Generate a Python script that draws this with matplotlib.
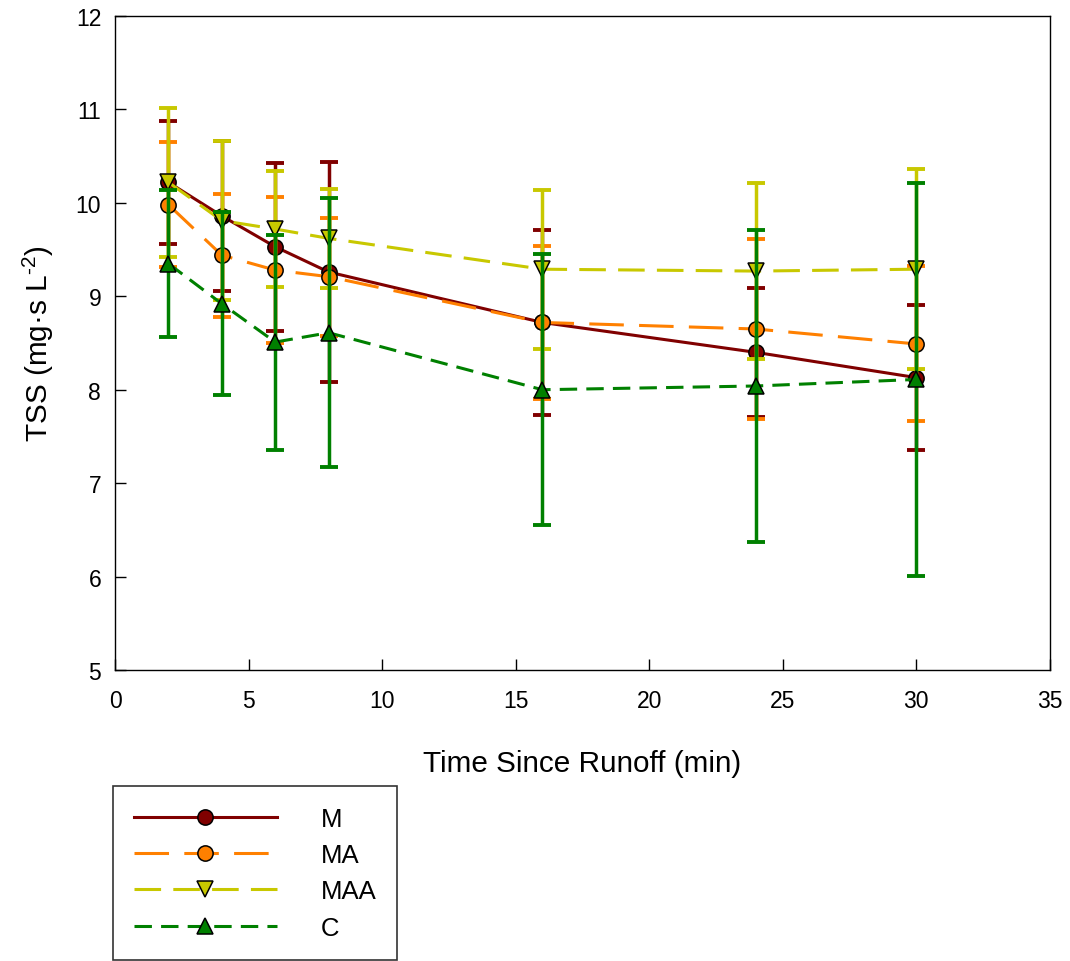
import matplotlib
matplotlib.use("Agg")
import matplotlib.pyplot as plt

plt.rcParams.update({
    "font.family": ["Liberation Sans", "DejaVu Sans"],
    "mathtext.fontset": "custom",
    "mathtext.rm": "Liberation Sans",
    "axes.linewidth": 1.0,
})

time = [2, 4, 6, 8, 16, 24, 30]

m_mean = [10.22, 9.86, 9.53, 9.26, 8.72, 8.40, 8.13]
m_err = [0.66, 0.80, 0.90, 1.18, 0.99, 0.69, 0.78]
ma_mean = [9.98, 9.44, 9.28, 9.21, 8.72, 8.65, 8.49]
ma_err = [0.67, 0.66, 0.78, 0.63, 0.82, 0.96, 0.83]
maa_mean = [10.22, 9.81, 9.72, 9.62, 9.29, 9.27, 9.29]
maa_err = [0.80, 0.85, 0.62, 0.53, 0.85, 0.94, 1.07]
c_mean = [9.35, 8.92, 8.51, 8.61, 8.00, 8.04, 8.11]
c_err = [0.79, 0.98, 1.15, 1.44, 1.45, 1.67, 2.10]

labels = ["M", "MA", "MAA", "C"]
means = [m_mean, ma_mean, maa_mean, c_mean]
errs = [m_err, ma_err, maa_err, c_err]
colors = ["#800000", "#ff8000", "#c8c800", "#008000"]
markers = ["o", "o", "v", "^"]
styles = ["-", (0, (11.3, 5)), (0, (8.7, 4)), (0, (5.7, 3))]

fig = plt.figure(figsize=(10.7, 9.62), dpi=100)
ax = fig.add_axes([0.1075, 0.3025, 0.8735, 0.6798])

handles = []
for i, (lab, y, e, c, mk, ls) in enumerate(zip(labels, means, errs, colors, markers, styles)):
    z = 2 + i
    ax.errorbar(time, y, yerr=e, fmt="none", ecolor=c, elinewidth=2.5,
                capsize=6.8, capthick=2.8, zorder=z)
    h, = ax.plot(time, y, color=c, linestyle=ls, linewidth=2.2, marker=mk,
                 markersize=11 if mk == "o" else 12, markerfacecolor=c,
                 markeredgecolor="black", markeredgewidth=1.1, zorder=z + 0.5,
                 label=lab)
    handles.append(h)

ax.set_xlim(0, 35)
ax.set_ylim(5, 12)
ax.set_xticks(range(0, 36, 5))
ax.set_yticks(range(5, 13))
ax.tick_params(direction="in", length=8, width=1, labelsize=16.5, top=False, right=False)
ax.tick_params(axis="x", pad=14)
ax.tick_params(axis="y", pad=10)
ax.set_xlabel("Time Since Runoff (min)", fontsize=21.4, labelpad=26)
ax.set_ylabel("TSS (mg·s L$^{\\mathregular{\u2010}2}$)", fontsize=21.4, labelpad=14)

leg = fig.legend(handles=handles, loc="upper left", bbox_to_anchor=(0.1056, 0.1819),
                 bbox_transform=fig.transFigure, fontsize=18.5, handlelength=5.6,
                 handletextpad=1.7, labelspacing=0.48, borderpad=0.8,
                 fancybox=False, frameon=True, edgecolor="black", borderaxespad=0)
leg.get_frame().set_linewidth(1.2)

fig.savefig("out.png", dpi=100, facecolor="white")
